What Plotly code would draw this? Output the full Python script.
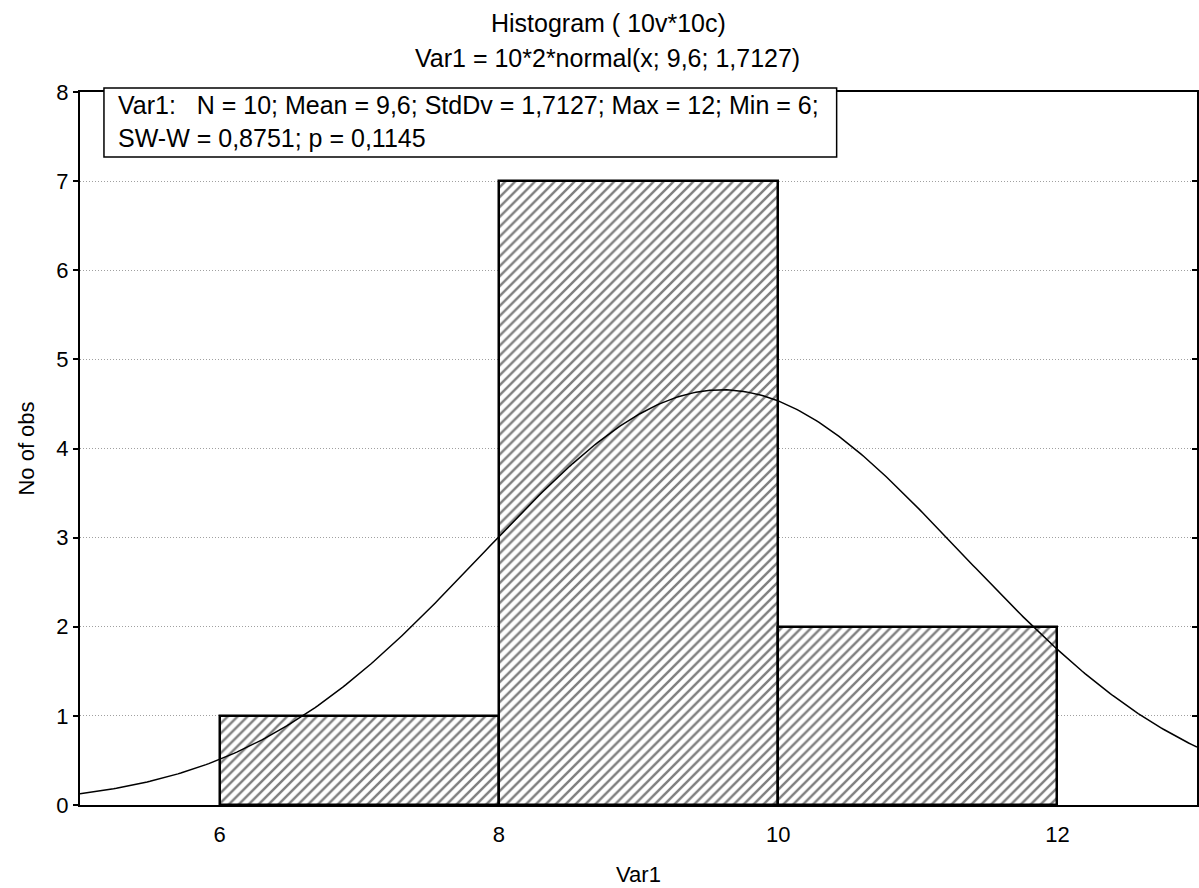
import numpy as np
import plotly.graph_objects as go

# Histogram data for Var1
bin_left = [6, 8, 10]
bin_right = [8, 10, 12]
counts = [1, 7, 2]

# Fitted normal curve parameters
n_obs = 10
bin_width = 2
mean = 9.6
std = 1.7127

x_ticks = [6, 8, 10, 12]
y_ticks = [0, 1, 2, 3, 4, 5, 6, 7, 8]

W, H = 1199, 888
L, R, T, B = 80, 0, 92, 83
pw, ph = W - L - R, H - T - B

def px_x(px):
    return (px - L) / pw

def px_y(py):
    return (H - B - py) / ph

centers = [(a + b) / 2 for a, b in zip(bin_left, bin_right)]
widths = [b - a for a, b in zip(bin_left, bin_right)]

xs = np.linspace(5, 13, 400)
ys = n_obs * bin_width * np.exp(-0.5 * ((xs - mean) / std) ** 2) / (std * np.sqrt(2 * np.pi))

fig = go.Figure()
fig.add_trace(go.Bar(
    x=centers, y=counts, width=widths,
    marker=dict(
        color="white",
        line=dict(color="black", width=2.5),
        pattern=dict(shape="/", fgcolor="black", bgcolor="white", size=7, solidity=0.35),
    ),
    hoverinfo="skip", showlegend=False,
))
fig.add_trace(go.Scatter(
    x=xs, y=ys, mode="lines", line=dict(color="black", width=1.5),
    hoverinfo="skip", showlegend=False,
))
# invisible trace to carry the right-hand tick axis
fig.add_trace(go.Scatter(x=[5], y=[0], yaxis="y2", mode="markers",
                         marker=dict(opacity=0), hoverinfo="skip", showlegend=False))

family = "Liberation Sans, Arial, sans-serif"
font = dict(family=family, size=22, color="black")
big = dict(family=family, size=25, color="black")

fig.update_layout(
    width=W, height=H,
    margin=dict(l=L, r=R, t=T, b=B),
    paper_bgcolor="white", plot_bgcolor="white",
    font=font,
    bargap=0,
    xaxis=dict(
        range=[5, 13], tickvals=x_ticks, ticks="", showgrid=False, zeroline=False,
        showline=True, linecolor="black", linewidth=2, mirror=True,
        ticklabelstandoff=9,
        title=dict(text="Var1", font=font, standoff=20),
        tickfont=font,
    ),
    yaxis=dict(
        range=[0, 8], tickvals=y_ticks, ticks="outside", ticklen=5, tickwidth=2,
        tickcolor="black", showgrid=True, gridcolor="#a0a0a0", griddash="1px,2px",
        gridwidth=1, zeroline=False,
        showline=True, linecolor="black", linewidth=2, mirror=True,
        title=dict(text="No of obs", font=font, standoff=16),
        tickfont=font,
    ),
    yaxis2=dict(
        range=[0, 8], tickvals=y_ticks, overlaying="y", side="right",
        ticks="inside", ticklen=5, tickwidth=2, tickcolor="black",
        showticklabels=False, showgrid=False, zeroline=False, showline=False,
    ),
    shapes=[
        # frame around the statistics text
        dict(type="rect", xref="paper", yref="paper",
             x0=px_x(104), x1=px_x(838), y0=px_y(157), y1=px_y(88),
             line=dict(color="black", width=1.5), fillcolor="white", layer="above"),
    ],
    annotations=[
        dict(text="Histogram ( 10v*10c)", xref="paper", yref="paper",
             x=px_x(609), y=px_y(23), xanchor="center", yanchor="middle",
             showarrow=False, font=big),
        dict(text="Var1 = 10*2*normal(x; 9,6; 1,7127)", xref="paper", yref="paper",
             x=px_x(608), y=px_y(58), xanchor="center", yanchor="middle",
             showarrow=False, font=big),
        dict(text="Var1:\u00a0\u00a0\u00a0N = 10; Mean = 9,6; StdDv = 1,7127; Max = 12; Min = 6;<br>"
                  "SW-W = 0,8751; p = 0,1145",
             xref="paper", yref="paper", x=px_x(117), y=px_y(90),
             xanchor="left", yanchor="top", align="left", showarrow=False,
             borderpad=0, font=big),
    ],
)

fig.write_html("out.html")
